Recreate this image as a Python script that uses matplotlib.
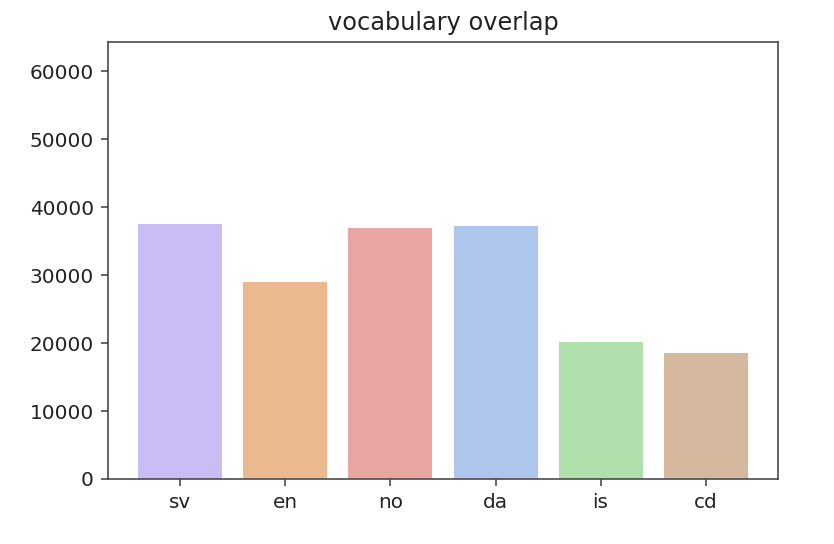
import matplotlib
matplotlib.use("Agg")
import matplotlib.pyplot as plt

# vocabulary overlap per language
langs = ["sv", "en", "no", "da", "is", "cd"]
counts = [37500, 28950, 36900, 37200, 20150, 18500]
colors = ["#c9bdf4", "#ebb98f", "#e8a5a1", "#aec6ec", "#b0e0ab", "#d4b99e"]

plt.rcParams["text.color"] = "#222222"
plt.rcParams["xtick.labelcolor"] = "#222222"
plt.rcParams["ytick.labelcolor"] = "#222222"
plt.rcParams["axes.edgecolor"] = "#444444"
plt.rcParams["xtick.color"] = "#444444"
plt.rcParams["ytick.color"] = "#444444"

fig = plt.figure(figsize=(834 / 144, 544 / 144), dpi=144)
ax = fig.add_axes([108 / 834, 1 - 479 / 544, (778 - 108) / 834, (479 - 42) / 544])
ax.bar(langs, counts, color=colors)
ax.set_ylim(0, 64300)
ax.set_title("vocabulary overlap")
fig.savefig("out.png", dpi=144)
